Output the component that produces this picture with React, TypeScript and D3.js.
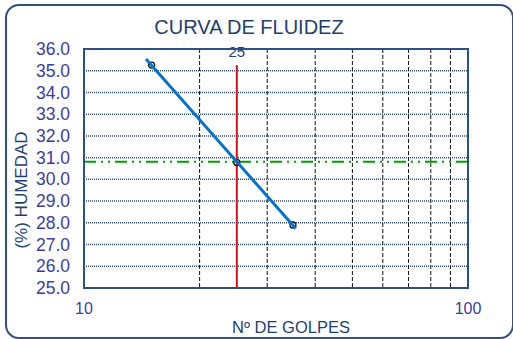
import * as d3 from 'd3';

const golpes = [15, 25, 35];
const humedad = [35.26, 30.78, 27.9];
const trendRange = [14.5, 35.6];
const yTicks = [25, 26, 27, 28, 29, 30, 31, 32, 33, 34, 35, 36];
const xGrid = [20, 30, 40, 50, 60, 70, 80, 90];
const xLabels = [10, 100];
const target = 25;

const W = 513;
const H = 339;
const m = { left: 84, right: 468, top: 49, bottom: 288 };

export default function App() {
  const x = d3.scaleLog().domain([10, 100]).range([m.left, m.right]);
  const y = d3.scaleLinear().domain([25, 36]).range([m.bottom, m.top]);

  // least squares on log10(x)
  const lx = golpes.map(Math.log10);
  const mx = d3.mean(lx)!;
  const my = d3.mean(humedad)!;
  const sxy = d3.sum(lx, (v, i) => (v - mx) * (humedad[i] - my));
  const sxx = d3.sum(lx, v => (v - mx) ** 2);
  const slope = sxy / sxx;
  const fit = (g: number) => my + slope * (Math.log10(g) - mx);
  const at25 = fit(target);

  const line = d3.line<number>().x(g => x(g)).y(g => y(fit(g)));

  return (
    <svg width={W} height={H} style={{ position: 'absolute', left: 0, top: 0, fontFamily: 'Liberation Sans, Arial, sans-serif' }}>
      <rect x={6} y={5} width={507} height={333} rx={13} fill="white" stroke="#2f5086" strokeWidth={2} />
      <text x={249} y={34} textAnchor="middle" fontSize={20} fill="#1f3f6f">CURVA DE FLUIDEZ</text>

      {yTicks.slice(1, -1).map(t => (
        <line key={t} x1={m.left} x2={m.right} y1={y(t)} y2={y(t)} stroke="#2e4a7a" strokeWidth={1.5} strokeDasharray="1,1" />
      ))}
      {xGrid.map(g => (
        <line key={g} x1={x(g)} x2={x(g)} y1={m.top} y2={m.bottom} stroke="#111" strokeWidth={1} strokeDasharray="4,2" />
      ))}

      <line x1={m.left} x2={m.right} y1={y(at25)} y2={y(at25)} stroke="#00a000" strokeWidth={2} strokeDasharray="12,5,2,5,2,5" />
      <line x1={x(target)} x2={x(target)} y1={y(humedad[0])} y2={m.bottom} stroke="#c8141e" strokeWidth={2} />
      <text x={x(target)} y={57} textAnchor="middle" fontSize={15} fill="#1f3f6f">{target}</text>

      {golpes.map((g, i) => (
        <circle key={g} cx={x(g)} cy={y(humedad[i])} r={3} fill="none" stroke="#111" strokeWidth={1.3} />
      ))}
      <path d={line(trendRange) ?? ''} fill="none" stroke="#0a72c4" strokeWidth={3} />

      <rect x={m.left} y={m.top} width={m.right - m.left} height={m.bottom - m.top} fill="none" stroke="#2f5086" strokeWidth={2} />

      {yTicks.map(t => (
        <text key={t} x={70} y={y(t)} dy="0.35em" textAnchor="end" fontSize={17.5} fill="#3c3ca0">{t.toFixed(1)}</text>
      ))}
      {xLabels.map(t => (
        <text key={t} x={x(t)} y={314} textAnchor="middle" fontSize={16} fill="#3c3ca0">{t}</text>
      ))}
      <text x={291} y={333} textAnchor="middle" fontSize={16.5} fill="#1f3f6f">Nº DE GOLPES</text>
      <text transform={`translate(27,190) rotate(-90)`} textAnchor="middle" fontSize={17} fill="#1f3f6f">(%) HUMEDAD</text>
    </svg>
  );
}
